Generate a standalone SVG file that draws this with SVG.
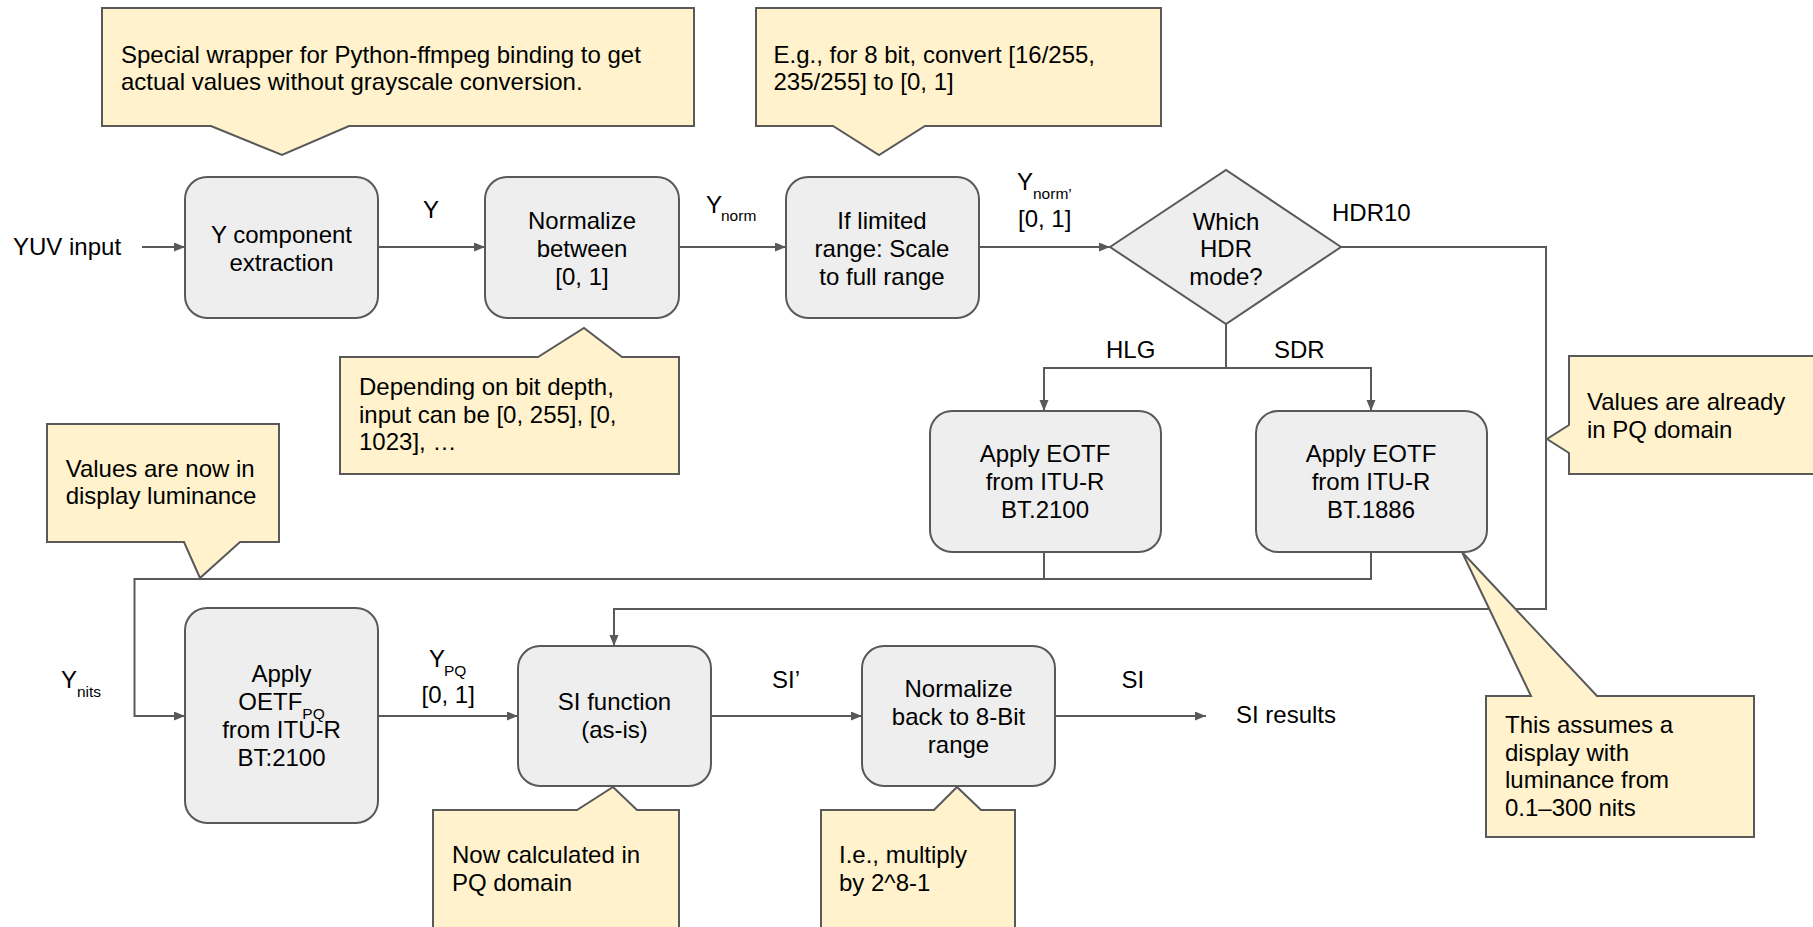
<svg xmlns="http://www.w3.org/2000/svg" width="1813" height="927" viewBox="0 0 1813 927">
<style>
text{font-family:"Liberation Sans",Arial,sans-serif;font-size:24px;fill:#000}
.sub{font-size:15.5px}
.c{text-anchor:middle}
.node{fill:#eeeeee;stroke:#595959;stroke-width:2}
.note{fill:#fff2cc;stroke:#595959;stroke-width:2}
.conn{fill:none;stroke:#595959;stroke-width:2}
</style>
<defs>
<marker id="arr" markerUnits="userSpaceOnUse" markerWidth="12" markerHeight="10" refX="11" refY="4.5" orient="auto">
<path d="M0,0 L11,4.5 L0,9 Z" fill="#595959"/>
</marker>
</defs>
<rect width="1813" height="927" fill="#ffffff"/>

<g id="connectors">
<path class="conn" d="M142,247 H185" marker-end="url(#arr)"/>
<path class="conn" d="M378,247 H485" marker-end="url(#arr)"/>
<path class="conn" d="M679,247 H786" marker-end="url(#arr)"/>
<path class="conn" d="M979,247 H1110" marker-end="url(#arr)"/>
<path class="conn" d="M1341,247 H1546 V609 H614 V646" marker-end="url(#arr)"/>
<path class="conn" d="M1226,324 V368 H1044 V411" marker-end="url(#arr)"/>
<path class="conn" d="M1226,368 H1371 V411" marker-end="url(#arr)"/>
<path class="conn" d="M1044,552 V579"/>
<path class="conn" d="M1371,552 V579 H134.5 V716 H185" marker-end="url(#arr)"/>
<path class="conn" d="M378,716 H518" marker-end="url(#arr)"/>
<path class="conn" d="M711,716 H862" marker-end="url(#arr)"/>
<path class="conn" d="M1055,716 H1206" marker-end="url(#arr)"/>
</g>

<g id="labels">
<text x="13" y="255">YUV input</text>
<text x="423" y="218">Y</text>
<text x="706" y="213">Y</text><text class="sub" x="721" y="221">norm</text>
<text x="1017" y="190">Y</text><text class="sub" x="1033" y="199">norm’</text>
<text x="1018" y="227">[0, 1]</text>
<text x="1332" y="221">HDR10</text>
<text x="1106" y="358">HLG</text>
<text x="1274" y="358">SDR</text>
<text x="61" y="688">Y</text><text class="sub" x="77" y="697">nits</text>
<text x="429" y="667">Y</text><text class="sub" x="444" y="676">PQ</text>
<text x="421.5" y="703">[0, 1]</text>
<text x="772" y="688">SI’</text>
<text x="1121.5" y="688">SI</text>
<text x="1236" y="723">SI results</text>
</g>

<g id="n-ycomp">
<rect class="node" x="185" y="177" width="193" height="141" rx="22"/>
<text class="c" x="281.5" y="243">Y component</text>
<text class="c" x="281.5" y="271">extraction</text>
</g>
<g id="n-normalize">
<rect class="node" x="485" y="177" width="194" height="141" rx="22"/>
<text class="c" x="582" y="229">Normalize</text>
<text class="c" x="582" y="257">between</text>
<text class="c" x="582" y="285">[0, 1]</text>
</g>
<g id="n-limited">
<rect class="node" x="786" y="177" width="193" height="141" rx="22"/>
<text class="c" x="882" y="229">If limited</text>
<text class="c" x="882" y="257">range: Scale</text>
<text class="c" x="882" y="285">to full range</text>
</g>
<g id="n-decision">
<polygon class="node" points="1110,247 1226,170 1341,247 1226,324"/>
<text class="c" x="1226" y="230">Which</text>
<text class="c" x="1226" y="257">HDR</text>
<text class="c" x="1226" y="285">mode?</text>
</g>
<g id="n-hlg">
<rect class="node" x="930" y="411" width="231" height="141" rx="22"/>
<text class="c" x="1045" y="462">Apply EOTF</text>
<text class="c" x="1045" y="490">from ITU-R</text>
<text class="c" x="1045" y="518">BT.2100</text>
</g>
<g id="n-sdr">
<rect class="node" x="1256" y="411" width="231" height="141" rx="22"/>
<text class="c" x="1371" y="462">Apply EOTF</text>
<text class="c" x="1371" y="490">from ITU-R</text>
<text class="c" x="1371" y="518">BT.1886</text>
</g>
<g id="n-oetf">
<rect class="node" x="185" y="608" width="193" height="215" rx="22"/>
<text class="c" x="281.5" y="682">Apply</text>
<text class="c" x="281.5" y="710">OETF<tspan class="sub" dy="9">PQ</tspan></text>
<text class="c" x="281.5" y="738">from ITU-R</text>
<text class="c" x="281.5" y="766">BT:2100</text>
</g>
<g id="n-si">
<rect class="node" x="518" y="646" width="193" height="140" rx="22"/>
<text class="c" x="614.5" y="710">SI function</text>
<text class="c" x="614.5" y="738">(as-is)</text>
</g>
<g id="n-normback">
<rect class="node" x="862" y="646" width="193" height="140" rx="22"/>
<text class="c" x="958.5" y="697">Normalize</text>
<text class="c" x="958.5" y="724.5">back to 8-Bit</text>
<text class="c" x="958.5" y="752.5">range</text>
</g>

<g id="note-wrapper">
<path class="note" d="M102,8 H694 V126 H349 L282,155 L211,126 H102 Z"/>
<text x="121" y="62.7">Special wrapper for Python-ffmpeg binding to get</text>
<text x="121" y="90.3">actual values without grayscale conversion.</text>
</g>
<g id="note-eg">
<path class="note" d="M756,8 H1161 V126 H925 L879,155 L833,126 H756 Z"/>
<text x="773.5" y="62.7">E.g., for 8 bit, convert [16/255,</text>
<text x="773.5" y="90.3">235/255] to [0, 1]</text>
</g>
<g id="note-depth">
<path class="note" d="M340,357 H538 L584,328 L622,357 H679 V474 H340 Z"/>
<text x="359" y="395">Depending on bit depth,</text>
<text x="359" y="422.6">input can be [0, 255], [0,</text>
<text x="359" y="450.2">1023], …</text>
</g>
<g id="note-display">
<path class="note" d="M47,424 H279 V542 H240 L200,578 L184,542 H47 Z"/>
<text x="65.7" y="476.7">Values are now in</text>
<text x="65.7" y="504.3">display luminance</text>
</g>
<g id="note-pq">
<path class="note" d="M1569,356 H1820 V474 H1569 V453 L1547,439 L1569,425 Z"/>
<text x="1587" y="410">Values are already</text>
<text x="1587" y="437.6">in PQ domain</text>
</g>
<g id="note-assume">
<path class="note" d="M1486,696 H1531 L1462,552 L1597,696 H1754 V837 H1486 Z"/>
<text x="1505" y="733">This assumes a</text>
<text x="1505" y="760.6">display with</text>
<text x="1505" y="788.2">luminance from</text>
<text x="1505" y="815.8">0.1–300 nits</text>
</g>
<g id="note-pqcalc">
<path class="note" d="M433,810 H577 L613,787 L637,810 H679 V935 H433 Z"/>
<text x="452" y="863.3">Now calculated in</text>
<text x="452" y="890.9">PQ domain</text>
</g>
<g id="note-multiply">
<path class="note" d="M821,810 H934 L957,787 L981,810 H1015 V935 H821 Z"/>
<text x="839" y="863.3">I.e., multiply</text>
<text x="839" y="890.9">by 2^8-1</text>
</g>
</svg>
